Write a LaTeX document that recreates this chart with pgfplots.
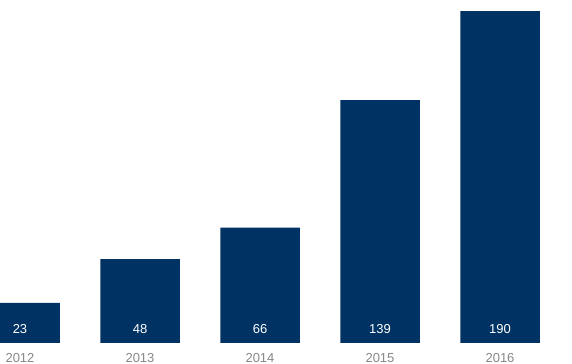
\documentclass[border=0pt]{standalone}
\usepackage{pgfplots}
\pgfplotsset{compat=1.18}
\usepackage{fontspec}
\setmainfont{Liberation Sans}
\definecolor{navy}{RGB}{0,50,100}
\definecolor{lbl}{RGB}{135,135,135}
\begin{document}
\begin{tikzpicture}[x=1pt,y=1pt]
\begin{axis}[
  name=ax,
  scale only axis,
  width=572pt, height=343pt,
  xmin=-0.16667, xmax=4.6,
  ymin=0, ymax=196.3,
  axis line style={draw=none},
  major tick length=0pt,
  ytick=\empty,
  xtick={0,1,2,3,4},
  xticklabels={2012,2013,2014,2015,2016},
  xticklabel style={anchor=north, inner sep=0pt, yshift=-10pt, text=lbl, font=\fontsize{13}{15}\selectfont},
  /pgf/number format/assume math mode=true,
]
\addplot[ybar, bar width=79.5pt, fill=navy, draw=none] coordinates {(0,23) (1,48) (2,66) (3,139) (4,190)};
\addplot[draw=none, mark=none, nodes near coords, point meta=explicit,
  nodes near coords style={anchor=center, text=white, font=\fontsize{13}{15}\selectfont, inner sep=0pt}]
  coordinates {(0,8) [23] (1,8) [48] (2,8) [66] (3,8) [139] (4,8) [190]};
\end{axis}
\pgfresetboundingbox
\path[use as bounding box] ([yshift=-21pt]ax.south west) rectangle (ax.north east);
\end{tikzpicture}
\end{document}
